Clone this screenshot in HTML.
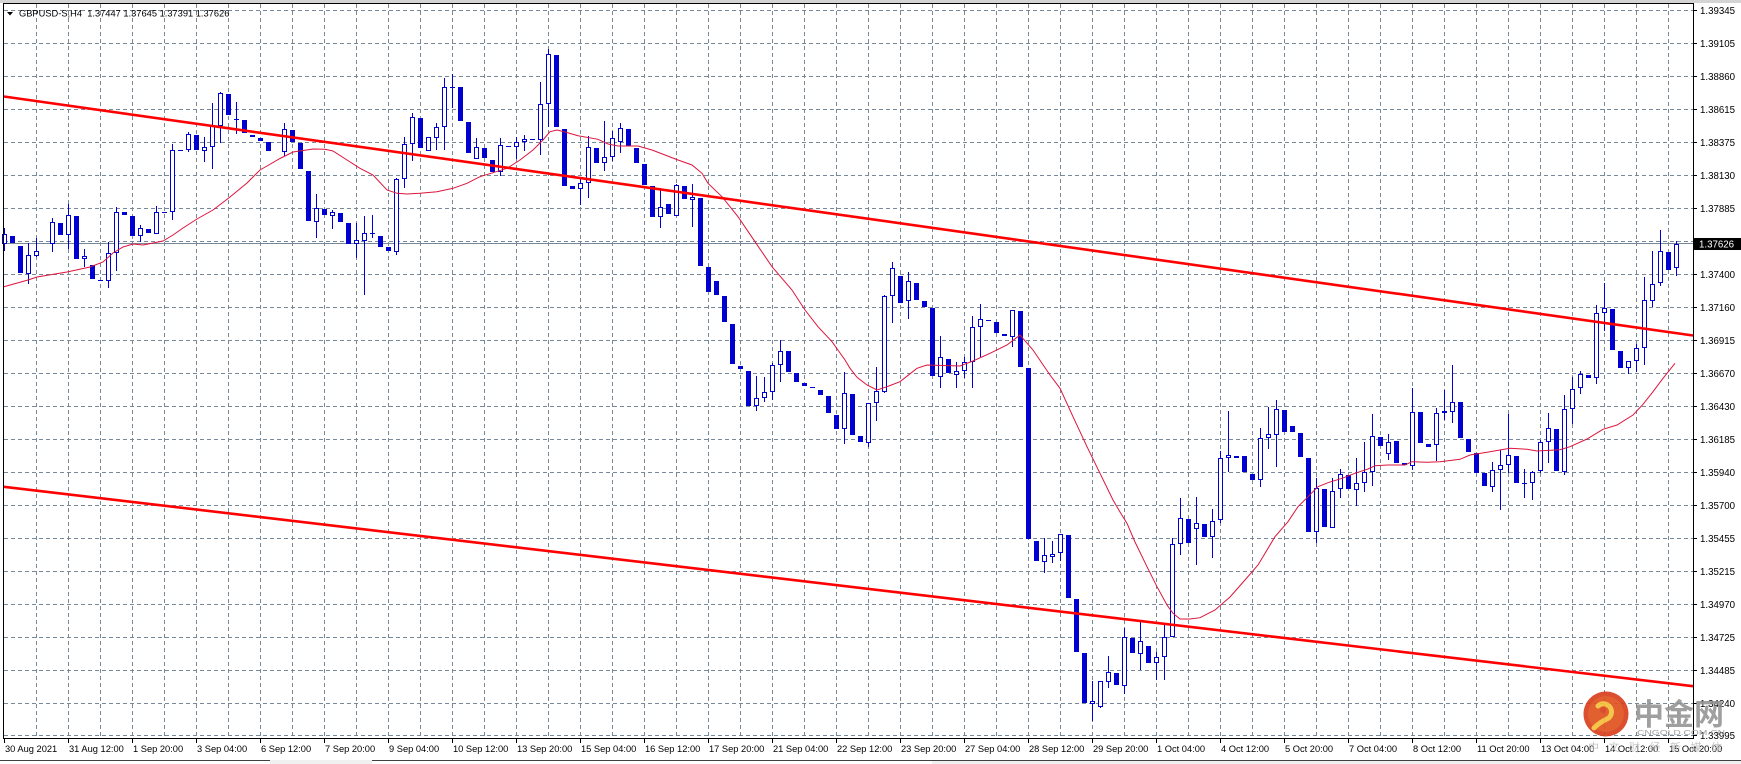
<!DOCTYPE html>
<html><head><meta charset="utf-8"><style>
html,body{margin:0;padding:0;background:#fff;}
body{width:1741px;height:764px;overflow:hidden;}
svg{display:block;}
text{font-family:"Liberation Sans","Noto Sans CJK SC",sans-serif;}
</style></head><body>
<svg width="1741" height="764" viewBox="0 0 1741 764" xmlns="http://www.w3.org/2000/svg">
<rect x="0" y="0" width="1741" height="764" fill="#fff"/>
<rect x="0" y="0" width="1741" height="3" fill="#d4d4d4"/>
<!-- grid -->
<path fill="none" stroke="#778899" stroke-width="1" stroke-dasharray="4,3" d="
M36.5 4V738M68.5 4V738M100.5 4V738M132.5 4V738M164.5 4V738M196.5 4V738M228.5 4V738M260.5 4V738M292.5 4V738M324.5 4V738M356.5 4V738M388.5 4V738M420.5 4V738M452.5 4V738M484.5 4V738M516.5 4V738M548.5 4V738M580.5 4V738M612.5 4V738M644.5 4V738M676.5 4V738M708.5 4V738M740.5 4V738M772.5 4V738M804.5 4V738M836.5 4V738M868.5 4V738M900.5 4V738M932.5 4V738M964.5 4V738M996.5 4V738M1028.5 4V738M1060.5 4V738M1092.5 4V738M1124.5 4V738M1156.5 4V738M1188.5 4V738M1220.5 4V738M1252.5 4V738M1284.5 4V738M1316.5 4V738M1348.5 4V738M1380.5 4V738M1412.5 4V738M1444.5 4V738M1476.5 4V738M1508.5 4V738M1540.5 4V738M1572.5 4V738M1604.5 4V738M1636.5 4V738M1668.5 4V738
M4 10.5H1693M4 43.5H1693M4 76.5H1693M4 109.5H1693M4 142.5H1693M4 175.5H1693M4 208.5H1693M4 241.5H1693M4 274.5H1693M4 307.5H1693M4 340.5H1693M4 373.5H1693M4 406.5H1693M4 439.5H1693M4 472.5H1693M4 505.5H1693M4 538.5H1693M4 571.5H1693M4 604.5H1693M4 637.5H1693M4 670.5H1693M4 703.5H1693M4 735.5H1693"/>
<!-- bid line -->
<path d="M4 243.5H1693" stroke="#778899" stroke-width="1"/>
<!-- wicks -->
<path fill="none" stroke="#0000d0" stroke-width="1" d="M4.5 228V251M28.5 243V284M36.5 238V257M52.5 218V252M68.5 204V249M84.5 249V267M108.5 242V288M116.5 207V271M140.5 225V242M156.5 206V234M172.5 144V220M188.5 132V152M204.5 137V162M212.5 103V169M220.5 92V143M236.5 102V134M284.5 123V156M316.5 194V238M332.5 210V229M356.5 223V258M364.5 216V295M372.5 215V238M396.5 178V255M404.5 137V188M412.5 113V161M436.5 123V150M444.5 78V150M452.5 74V108M476.5 138V159M500.5 138V176M516.5 137V159M524.5 135V151M540.5 82V155M548.5 49V127M580.5 178V205M588.5 136V198M604.5 121V171M612.5 131V161M620.5 123V153M660.5 188V228M676.5 184V216M692.5 184V227M756.5 376V411M764.5 377V402M772.5 363V400M780.5 340V382M844.5 372V444M868.5 403V447M876.5 367V421M884.5 295V393M892.5 262V323M908.5 272V319M940.5 336V388M956.5 362V388M964.5 357V378M972.5 316V388M980.5 304V357M1012.5 310V347M1044.5 538V573M1052.5 541V563M1060.5 534V561M1092.5 681V721M1100.5 681V708M1108.5 656V688M1124.5 628V694M1140.5 622V670M1156.5 652V680M1164.5 625V680M1172.5 538V637M1180.5 498V555M1196.5 497V565M1212.5 509V558M1220.5 451V523M1228.5 411V472M1260.5 428V487M1268.5 407V449M1276.5 400V467M1316.5 478V543M1332.5 478V528M1340.5 469V498M1356.5 458V506M1364.5 442V492M1372.5 414V486M1388.5 434V460M1412.5 388V470M1436.5 408V461M1444.5 390V420M1452.5 365V423M1492.5 462V492M1500.5 450V510M1508.5 414V473M1524.5 469V498M1532.5 471V500M1540.5 440V473M1548.5 413V463M1564.5 395V475M1572.5 377V424M1580.5 371V394M1596.5 305V384M1604.5 283V331M1628.5 361V374M1636.5 344V372M1644.5 277V365M1652.5 251V307M1660.5 230V286M1676.5 241V276"/>
<!-- hollow (bull) bodies -->
<path fill="#fff" stroke="#0000d0" stroke-width="1" d="M2.5 234.5h4v9h-4zM26.5 255.5h4v18h-4zM34.5 251.5h4v4h-4zM50.5 222.5h4v21h-4zM66.5 215.5h4v19h-4zM82.5 256.5h4v2h-4zM106.5 253.5h4v27h-4zM114.5 212.5h4v40h-4zM138.5 228.5h4v7h-4zM154.5 212.5h4v21h-4zM170.5 150.5h4v61h-4zM186.5 134.5h4v15h-4zM202.5 147.5h4v3h-4zM210.5 126.5h4v20h-4zM218.5 93.5h4v32h-4zM282.5 129.5h4v22h-4zM314.5 208.5h4v13h-4zM330.5 212.5h4v3h-4zM354.5 240.5h4v3h-4zM362.5 233.5h4v7h-4zM394.5 179.5h4v72h-4zM402.5 144.5h4v34h-4zM410.5 117.5h4v26h-4zM426.5 137.5h4v13h-4zM434.5 127.5h4v10h-4zM442.5 87.5h4v39h-4zM474.5 147.5h4v11h-4zM498.5 145.5h4v26h-4zM514.5 142.5h4v4h-4zM522.5 139.5h4v2h-4zM538.5 104.5h4v35h-4zM546.5 54.5h4v49h-4zM578.5 183.5h4v5h-4zM586.5 147.5h4v35h-4zM602.5 157.5h4v5h-4zM610.5 138.5h4v18h-4zM618.5 128.5h4v13h-4zM658.5 207.5h4v9h-4zM674.5 185.5h4v30h-4zM690.5 197.5h4v2h-4zM754.5 398.5h4v7h-4zM762.5 392.5h4v5h-4zM770.5 365.5h4v26h-4zM778.5 351.5h4v13h-4zM842.5 393.5h4v35h-4zM866.5 403.5h4v39h-4zM874.5 391.5h4v11h-4zM882.5 296.5h4v95h-4zM890.5 268.5h4v27h-4zM906.5 281.5h4v19h-4zM938.5 357.5h4v19h-4zM954.5 371.5h4v3h-4zM962.5 362.5h4v8h-4zM970.5 327.5h4v34h-4zM978.5 319.5h4v7h-4zM1010.5 310.5h4v26h-4zM1042.5 555.5h4v6h-4zM1050.5 554.5h4v2h-4zM1058.5 534.5h4v18h-4zM1090.5 701.5h4v2h-4zM1098.5 681.5h4v25h-4zM1106.5 672.5h4v9h-4zM1122.5 637.5h4v48h-4zM1138.5 641.5h4v12h-4zM1154.5 657.5h4v5h-4zM1162.5 637.5h4v19h-4zM1170.5 544.5h4v92h-4zM1178.5 518.5h4v25h-4zM1194.5 523.5h4v5h-4zM1210.5 521.5h4v15h-4zM1218.5 458.5h4v61h-4zM1226.5 455.5h4v2h-4zM1258.5 438.5h4v41h-4zM1266.5 434.5h4v3h-4zM1274.5 409.5h4v25h-4zM1314.5 488.5h4v43h-4zM1330.5 491.5h4v36h-4zM1338.5 474.5h4v14h-4zM1354.5 483.5h4v6h-4zM1362.5 472.5h4v10h-4zM1370.5 436.5h4v35h-4zM1386.5 442.5h4v11h-4zM1410.5 412.5h4v53h-4zM1434.5 413.5h4v31h-4zM1442.5 411.5h4v1h-4zM1450.5 402.5h4v9h-4zM1490.5 470.5h4v16h-4zM1498.5 465.5h4v4h-4zM1506.5 455.5h4v9h-4zM1530.5 472.5h4v10h-4zM1538.5 442.5h4v28h-4zM1546.5 428.5h4v13h-4zM1562.5 409.5h4v62h-4zM1570.5 389.5h4v19h-4zM1578.5 374.5h4v13h-4zM1594.5 313.5h4v64h-4zM1602.5 308.5h4v4h-4zM1626.5 361.5h4v6h-4zM1634.5 348.5h4v12h-4zM1642.5 300.5h4v47h-4zM1650.5 284.5h4v16h-4zM1658.5 251.5h4v31h-4zM1674.5 244.5h4v23h-4z"/>
<!-- filled (bear) bodies -->
<path fill="#0000d0" d="M10 236h5v7h-5zM18 246h5v27h-5zM58 223h5v12h-5zM74 216h5v43h-5zM90 265h5v14h-5zM98 280h5v1h-5zM122 212h5v3h-5zM130 216h5v20h-5zM146 229h5v4h-5zM162 212h5v1h-5zM178 150h5v1h-5zM194 135h5v15h-5zM226 94h5v21h-5zM234 119h5v1h-5zM242 120h5v13h-5zM250 135h5v2h-5zM258 138h5v3h-5zM266 142h5v9h-5zM290 130h5v12h-5zM298 143h5v26h-5zM306 171h5v50h-5zM322 209h5v6h-5zM338 213h5v9h-5zM346 223h5v21h-5zM370 233h5v1h-5zM378 236h5v11h-5zM386 247h5v4h-5zM418 118h5v30h-5zM450 87h5v1h-5zM458 87h5v34h-5zM466 122h5v31h-5zM482 148h5v10h-5zM490 160h5v12h-5zM506 146h5v1h-5zM530 139h5v1h-5zM554 55h5v72h-5zM562 129h5v57h-5zM570 186h5v3h-5zM594 148h5v15h-5zM626 129h5v17h-5zM634 148h5v15h-5zM642 164h5v21h-5zM650 186h5v31h-5zM666 204h5v10h-5zM682 186h5v13h-5zM698 198h5v68h-5zM706 267h5v25h-5zM714 281h5v14h-5zM722 296h5v26h-5zM730 324h5v40h-5zM738 366h5v3h-5zM746 371h5v35h-5zM786 351h5v21h-5zM794 373h5v9h-5zM802 383h5v3h-5zM810 387h5v1h-5zM818 390h5v5h-5zM826 396h5v17h-5zM834 415h5v14h-5zM850 394h5v41h-5zM858 436h5v6h-5zM898 276h5v27h-5zM914 283h5v17h-5zM922 301h5v6h-5zM930 308h5v68h-5zM946 359h5v14h-5zM986 320h5v1h-5zM994 322h5v11h-5zM1002 334h5v2h-5zM1018 311h5v56h-5zM1026 368h5v171h-5zM1034 541h5v20h-5zM1066 535h5v63h-5zM1074 599h5v53h-5zM1082 653h5v50h-5zM1114 673h5v12h-5zM1130 638h5v15h-5zM1146 646h5v17h-5zM1186 519h5v24h-5zM1202 524h5v13h-5zM1234 456h5v2h-5zM1242 456h5v16h-5zM1250 474h5v6h-5zM1282 410h5v22h-5zM1290 426h5v6h-5zM1298 433h5v24h-5zM1306 458h5v74h-5zM1322 489h5v38h-5zM1346 475h5v14h-5zM1378 437h5v9h-5zM1394 441h5v22h-5zM1402 463h5v2h-5zM1418 412h5v31h-5zM1426 444h5v3h-5zM1458 402h5v36h-5zM1466 439h5v13h-5zM1474 453h5v20h-5zM1482 473h5v13h-5zM1514 456h5v27h-5zM1522 483h5v1h-5zM1554 429h5v42h-5zM1586 375h5v3h-5zM1610 309h5v41h-5zM1618 351h5v17h-5zM1666 252h5v18h-5z"/>
<!-- moving average -->
<polyline fill="none" stroke="#dc143c" stroke-width="1" points="3,287 28,280 37,277 67,272 90,267 103,262 113,253 123,247 133,244 143,245 163,241 173,235 183,228 197,219 213,210 230,197 247,183 260,170 267,166 280,158.5 293,152 313,149 325,149.3 333,151 347,160 360,168.3 373,175 387,190 397,193.3 407,194 420,193.3 437,191.7 453,188.3 467,183.3 480,176.7 493,172.7 507,168.3 520,160 533,150 543,140 550,131.7 557,130 565,132 578,135.7 598,139.3 608,144 618,146 638,146 652,150 665,155 678,160 692,165 702,173.3 708,183.3 722,196.7 738,216.7 755,241.7 772,266.7 792,290 805,310 818,326.7 832,341.7 845,360 850,368.3 857,377.3 867,385 877,390 887,386.7 900,381.7 917,368.3 927,365 960,366 973,361 990,353.3 1007,345 1020,335 1033,350 1050,375 1060,388.3 1073,416.7 1087,446.7 1100,473.3 1113,500 1120,512 1127,523.3 1135,542 1147,566.7 1157,586.7 1167,605 1173,613.3 1180,619 1190,619 1200,617.7 1215,610 1230,597 1245,580 1258,565 1275,536.7 1288,521.7 1298,506.7 1308,496.7 1318,486.7 1328,482.7 1342,478.3 1355,473.3 1368,469 1375,465.7 1388,465 1405,465 1412,461.7 1427,462.3 1440,461.7 1460,459.3 1470,455 1487,452.3 1510,448.3 1527,449.3 1537,451 1560,449.7 1570,446.7 1587,439 1603,429.3 1617,425 1633,415 1643,404.3 1653,391.7 1663,378.3 1675,363.3"/>
<!-- trendlines -->
<line x1="4" y1="96.5" x2="1693" y2="335.5" stroke="#ff0000" stroke-width="2.6"/>
<line x1="4" y1="486.8" x2="1693" y2="686.2" stroke="#ff0000" stroke-width="2.6"/>
<!-- frame -->
<rect x="3.5" y="3.5" width="1690" height="735" fill="none" stroke="#000" stroke-width="1"/>
<!-- price axis ticks -->
<path stroke="#000" stroke-width="1" d="M1693 10.5h4M1693 43.5h4M1693 76.5h4M1693 109.5h4M1693 142.5h4M1693 175.5h4M1693 208.5h4M1693 241.5h4M1693 274.5h4M1693 307.5h4M1693 340.5h4M1693 373.5h4M1693 406.5h4M1693 439.5h4M1693 472.5h4M1693 505.5h4M1693 538.5h4M1693 571.5h4M1693 604.5h4M1693 637.5h4M1693 670.5h4M1693 703.5h4M1693 735.5h4"/>
<!-- time axis ticks -->
<path stroke="#000" stroke-width="1" d="M4.5 739v4M68.5 739v4M132.5 739v4M196.5 739v4M260.5 739v4M324.5 739v4M388.5 739v4M452.5 739v4M516.5 739v4M580.5 739v4M644.5 739v4M708.5 739v4M772.5 739v4M836.5 739v4M900.5 739v4M964.5 739v4M1028.5 739v4M1092.5 739v4M1156.5 739v4M1220.5 739v4M1284.5 739v4M1348.5 739v4M1412.5 739v4M1476.5 739v4M1540.5 739v4M1604.5 739v4M1668.5 739v4"/>
<!-- price labels -->
<g font-size="9.7" fill="#000">
<text x="1700" y="14">1.39345</text>
<text x="1700" y="47">1.39105</text>
<text x="1700" y="80">1.38860</text>
<text x="1700" y="113">1.38615</text>
<text x="1700" y="146">1.38375</text>
<text x="1700" y="179">1.38130</text>
<text x="1700" y="212">1.37885</text>
<text x="1700" y="245">1.37640</text>
<text x="1700" y="278">1.37400</text>
<text x="1700" y="311">1.37160</text>
<text x="1700" y="344">1.36915</text>
<text x="1700" y="377">1.36670</text>
<text x="1700" y="410">1.36430</text>
<text x="1700" y="443">1.36185</text>
<text x="1700" y="476">1.35940</text>
<text x="1700" y="509">1.35700</text>
<text x="1700" y="542">1.35455</text>
<text x="1700" y="575">1.35215</text>
<text x="1700" y="608">1.34970</text>
<text x="1700" y="641">1.34725</text>
<text x="1700" y="674">1.34485</text>
<text x="1700" y="707">1.34240</text>
<text x="1700" y="739">1.33995</text>
</g>
<rect x="1694" y="238" width="47" height="12" fill="#000"/>
<text x="1699" y="247.5" font-size="9.7" fill="#fff">1.37626</text>
<!-- time labels -->
<g font-size="9.3" fill="#000">
<text x="5" y="752">30 Aug 2021</text>
<text x="69" y="752">31 Aug 12:00</text>
<text x="133" y="752">1 Sep 20:00</text>
<text x="197" y="752">3 Sep 04:00</text>
<text x="261" y="752">6 Sep 12:00</text>
<text x="325" y="752">7 Sep 20:00</text>
<text x="389" y="752">9 Sep 04:00</text>
<text x="453" y="752">10 Sep 12:00</text>
<text x="517" y="752">13 Sep 20:00</text>
<text x="581" y="752">15 Sep 04:00</text>
<text x="645" y="752">16 Sep 12:00</text>
<text x="709" y="752">17 Sep 20:00</text>
<text x="773" y="752">21 Sep 04:00</text>
<text x="837" y="752">22 Sep 12:00</text>
<text x="901" y="752">23 Sep 20:00</text>
<text x="965" y="752">27 Sep 04:00</text>
<text x="1029" y="752">28 Sep 12:00</text>
<text x="1093" y="752">29 Sep 20:00</text>
<text x="1157" y="752">1 Oct 04:00</text>
<text x="1221" y="752">4 Oct 12:00</text>
<text x="1285" y="752">5 Oct 20:00</text>
<text x="1349" y="752">7 Oct 04:00</text>
<text x="1413" y="752">8 Oct 12:00</text>
<text x="1477" y="752">11 Oct 20:00</text>
<text x="1541" y="752">13 Oct 04:00</text>
<text x="1605" y="752">14 Oct 12:00</text>
<text x="1669" y="752">15 Oct 20:00</text>
</g>
<!-- title -->
<polygon points="7,12 13,12 10,15.5" fill="#000"/>
<text x="19" y="16.5" font-size="9.3" fill="#000" xml:space="preserve">GBPUSD-S,H4  1.37447 1.37645 1.37391 1.37626</text>
<!-- bottom tabs -->
<rect x="0" y="760" width="1741" height="4" fill="#f0f0f0"/>
<path d="M0 760.5H270M372 760.5H1741" stroke="#404040" stroke-width="1"/>
<rect x="0" y="761" width="270" height="3" fill="#fff"/>
<rect x="372" y="761" width="560" height="3" fill="#fff"/>
<!-- watermark -->
<g opacity="0.92">
<circle cx="1606" cy="714" r="22.5" fill="#d8401e"/>
<circle cx="1606" cy="714" r="18" fill="#e0521f"/>
<path d="M1598 706 a8 8 0 1 1 9 13 q-7 3 -13 9" fill="none" stroke="#f4bf3c" stroke-width="5" stroke-linecap="round"/>
<circle cx="1603" cy="710" r="3" fill="#d8401e"/>
</g>
<text x="1634" y="725" font-size="30" font-weight="bold" fill="#8e8e8e" fill-opacity="0.85" style='font-family:"Noto Sans CJK SC",sans-serif'>中金网</text>
<text x="1637" y="735" font-size="7.5" fill="#a0a0a0" textLength="88" lengthAdjust="spacingAndGlyphs">CNGOLD.COM.CN</text>
<text x="1588" y="751" font-size="11" fill="#b8b8b8" fill-opacity="0.8" textLength="134" style='font-family:"Noto Sans CJK SC",sans-serif'>中文财经新媒体</text>
</svg>
</body></html>
